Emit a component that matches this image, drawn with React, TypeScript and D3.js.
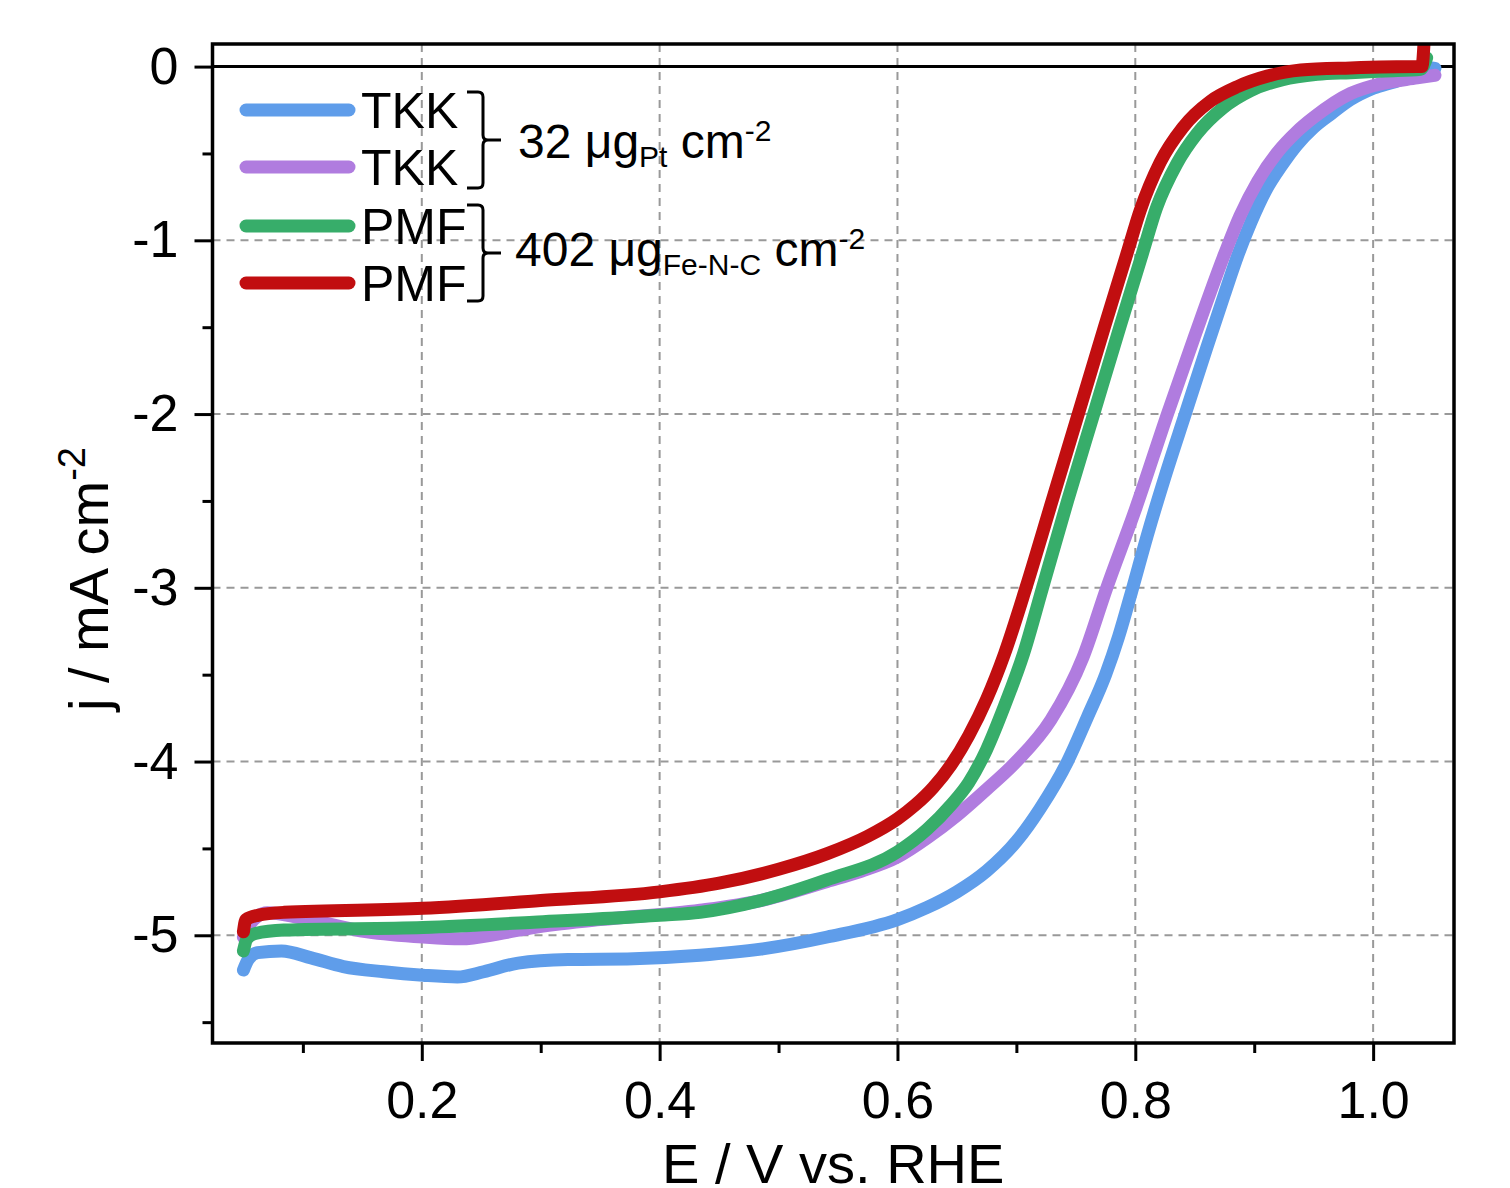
import React, { useEffect, useRef } from 'react';
import * as d3 from 'd3';

// E / V vs. RHE , j / mA cm-2
const tkkBlue: [number, number][] = [
  [0.050, -5.20], [0.054, -5.14], [0.062, -5.10], [0.082, -5.09], [0.107, -5.13], [0.134, -5.18],
  [0.168, -5.21], [0.201, -5.23], [0.230, -5.24], [0.252, -5.21], [0.281, -5.16], [0.323, -5.14],
  [0.378, -5.135], [0.434, -5.115], [0.485, -5.08], [0.541, -5.01], [0.600, -4.91], [0.625, -4.84],
  [0.650, -4.75], [0.675, -4.63], [0.700, -4.46], [0.720, -4.27], [0.743, -4.0], [0.760, -3.74],
  [0.775, -3.50], [0.786, -3.28], [0.797, -3.02], [0.810, -2.70], [0.825, -2.36], [0.842, -2.0],
  [0.860, -1.62], [0.875, -1.31], [0.886, -1.09], [0.897, -0.90], [0.910, -0.71], [0.923, -0.57],
  [0.936, -0.45], [0.950, -0.35], [0.965, -0.27], [0.981, -0.19], [1.0, -0.125], [1.023, -0.075],
  [1.037, -0.03], [1.045, -0.005], [1.052, -0.01]
];
const tkkPurple: [number, number][] = [
  [0.050, -5.01], [0.056, -4.93], [0.070, -4.87], [0.098, -4.90], [0.154, -4.98], [0.201, -5.01],
  [0.233, -5.02], [0.266, -4.99], [0.294, -4.955], [0.350, -4.91], [0.434, -4.856], [0.485, -4.80],
  [0.541, -4.69], [0.570, -4.63], [0.600, -4.55], [0.625, -4.44], [0.650, -4.31], [0.675, -4.16],
  [0.700, -4.0], [0.729, -3.76], [0.756, -3.40], [0.776, -3.0], [0.800, -2.55], [0.827, -2.0],
  [0.850, -1.55], [0.875, -1.08], [0.888, -0.86], [0.903, -0.66], [0.920, -0.49], [0.935, -0.38],
  [0.950, -0.293], [0.981, -0.155], [1.0, -0.11], [1.037, -0.065], [1.052, -0.05]
];
const pmfGreen: [number, number][] = [
  [0.050, -5.09], [0.053, -5.02], [0.060, -4.99], [0.084, -4.97], [0.201, -4.955], [0.294, -4.925],
  [0.400, -4.885], [0.434, -4.868], [0.485, -4.80], [0.541, -4.68], [0.600, -4.52], [0.625, -4.39],
  [0.645, -4.25], [0.660, -4.12], [0.675, -3.93], [0.690, -3.68], [0.706, -3.38], [0.722, -3.0],
  [0.743, -2.5], [0.765, -2.0], [0.787, -1.5], [0.806, -1.076], [0.818, -0.81], [0.835, -0.558],
  [0.852, -0.385], [0.874, -0.236], [0.897, -0.138], [0.924, -0.075], [0.953, -0.045], [0.981, -0.035],
  [1.01, -0.025], [1.04, -0.015], [1.045, 0.05]
];
const pmfRed: [number, number][] = [
  [0.050, -4.98], [0.052, -4.91], [0.062, -4.885], [0.084, -4.868], [0.201, -4.845], [0.300, -4.80],
  [0.400, -4.75], [0.450, -4.70], [0.500, -4.62], [0.541, -4.53], [0.575, -4.43], [0.600, -4.33],
  [0.615, -4.25], [0.630, -4.15], [0.645, -4.02], [0.660, -3.85], [0.675, -3.64], [0.690, -3.38],
  [0.708, -3.0], [0.730, -2.5], [0.752, -2.0], [0.774, -1.5], [0.793, -1.076], [0.804, -0.83],
  [0.821, -0.55], [0.840, -0.35], [0.863, -0.20], [0.886, -0.115], [0.911, -0.055], [0.939, -0.02],
  [0.981, -0.008], [1.037, 0.0], [1.041, 0.0], [1.043, 0.16]
];

const seriesData = [tkkBlue, tkkPurple, pmfGreen, pmfRed];
const legendLabels = ['TKK', 'TKK', 'PMF', 'PMF'];
const colors = ['#5f9dea', '#b07cdf', '#37ad6a', '#c10e10'];

const xTicks = [0.2, 0.4, 0.6, 0.8, 1.0];
const xMinorTicks = [0.1, 0.3, 0.5, 0.7, 0.9];
const yTicks = [0, -1, -2, -3, -4, -5];
const yMinorTicks = [-0.5, -1.5, -2.5, -3.5, -4.5, -5.5];

const FONT = '"Liberation Sans", Arial, sans-serif';

export default function App() {
  const ref = useRef<SVGSVGElement>(null);

  useEffect(() => {
    const svg = d3.select(ref.current);
    svg.selectAll('*').remove();

    const left = 212.5, right = 1454, top = 44, bottom = 1043;

    const x = d3.scaleLinear().domain([0.024, 1.068]).range([left, right]);
    const y = d3.scaleLinear().domain([-5.62, 0.13]).range([bottom, top]);

    svg.append('rect').attr('width', 1510).attr('height', 1188).attr('fill', 'white');

    // grid
    const grid = svg.append('g').attr('stroke', '#999').attr('stroke-width', 2).attr('stroke-dasharray', '8,6');
    grid.selectAll('line.gx').data(xTicks).enter().append('line')
      .attr('x1', d => x(d)).attr('x2', d => x(d)).attr('y1', top).attr('y2', bottom);
    grid.selectAll('line.gy').data(yTicks.filter(d => d !== 0)).enter().append('line')
      .attr('y1', d => y(d)).attr('y2', d => y(d)).attr('x1', left).attr('x2', right);

    // zero line
    svg.append('line')
      .attr('x1', left).attr('x2', right).attr('y1', y(0)).attr('y2', y(0))
      .attr('stroke', 'black').attr('stroke-width', 3);

    // curves
    svg.append('clipPath').attr('id', 'plot-clip')
      .append('rect').attr('x', left).attr('y', top).attr('width', right - left).attr('height', bottom - top);

    const line = d3.line<[number, number]>()
      .x(d => x(d[0]))
      .y(d => y(d[1]))
      .curve(d3.curveMonotoneX);

    svg.append('g').attr('clip-path', 'url(#plot-clip)')
      .selectAll('path').data(seriesData).enter().append('path')
      .attr('d', d => line(d))
      .attr('fill', 'none')
      .attr('stroke', (d, i) => colors[i])
      .attr('stroke-width', 13)
      .attr('stroke-linecap', 'round')
      .attr('stroke-linejoin', 'round');

    // axes
    const styleAxis = (g) => {
      g.select('.domain').remove();
      g.selectAll('line').attr('stroke', 'black').attr('stroke-width', 3);
      g.attr('font-family', FONT).attr('font-size', 52);
      g.selectAll('text').attr('fill', 'black');
    };

    svg.append('g').attr('transform', `translate(0,${bottom})`)
      .call(d3.axisBottom(x).tickValues(xTicks).tickSize(18).tickPadding(20).tickFormat(d3.format('.1f')))
      .call(styleAxis);
    svg.append('g').attr('transform', `translate(0,${bottom})`)
      .call(d3.axisBottom(x).tickValues(xMinorTicks).tickSize(10).tickFormat(() => ''))
      .call(styleAxis);
    svg.append('g').attr('transform', `translate(${left},0)`)
      .call(d3.axisLeft(y).tickValues(yTicks).tickSize(18).tickPadding(16).tickFormat(d => String(d)))
      .call(styleAxis);
    svg.append('g').attr('transform', `translate(${left},0)`)
      .call(d3.axisLeft(y).tickValues(yMinorTicks).tickSize(10).tickFormat(() => ''))
      .call(styleAxis);

    // frame
    svg.append('rect')
      .attr('x', left).attr('y', top).attr('width', right - left).attr('height', bottom - top)
      .attr('fill', 'none').attr('stroke', 'black').attr('stroke-width', 3.5);

    // axis titles
    svg.append('text')
      .attr('x', (left + right) / 2).attr('y', 1183)
      .attr('text-anchor', 'middle').attr('font-family', FONT).attr('font-size', 56)
      .text('E / V vs. RHE');

    const yl = svg.append('text')
      .attr('transform', 'translate(108,579) rotate(-90)')
      .attr('text-anchor', 'middle').attr('font-family', FONT).attr('font-size', 56);
    yl.append('tspan').text('j / mA cm');
    yl.append('tspan').attr('font-size', 38).attr('dy', -23).text('-2');

    // legend
    const legendY = [110, 167, 226, 283];
    const lg = svg.append('g');
    lg.selectAll('line').data(legendLabels).enter().append('line')
      .attr('x1', 246).attr('x2', 349)
      .attr('y1', (d, i) => legendY[i]).attr('y2', (d, i) => legendY[i])
      .attr('stroke', (d, i) => colors[i]).attr('stroke-width', 13).attr('stroke-linecap', 'round');
    lg.selectAll('text').data(legendLabels).enter().append('text')
      .attr('x', 361).attr('y', (d, i) => legendY[i] + 18)
      .attr('font-family', FONT).attr('font-size', 50)
      .text(d => d);

    // brackets
    const bracket = (y0, y1) => {
      const m = (y0 + y1) / 2;
      return `M467,${y0} L478,${y0} Q483,${y0} 483,${y0 + 5} L483,${m - 5} Q483,${m} 488,${m} L501,${m} L488,${m} Q483,${m} 483,${m + 5} L483,${y1 - 5} Q483,${y1} 478,${y1} L467,${y1}`;
    };
    svg.append('path').attr('d', bracket(92, 188)).attr('fill', 'none').attr('stroke', 'black').attr('stroke-width', 3);
    svg.append('path').attr('d', bracket(205, 301)).attr('fill', 'none').attr('stroke', 'black').attr('stroke-width', 3);

    const t1 = svg.append('text').attr('x', 518).attr('y', 158).attr('font-family', FONT).attr('font-size', 48);
    t1.append('tspan').text('32 μg');
    t1.append('tspan').attr('font-size', 30).attr('dy', 9).text('Pt');
    t1.append('tspan').attr('dy', -9).text(' cm');
    t1.append('tspan').attr('font-size', 30).attr('dy', -17).text('-2');

    const t2 = svg.append('text').attr('x', 515).attr('y', 266).attr('font-family', FONT).attr('font-size', 48);
    t2.append('tspan').text('402 μg');
    t2.append('tspan').attr('font-size', 30).attr('dy', 9).text('Fe-N-C');
    t2.append('tspan').attr('dy', -9).text(' cm');
    t2.append('tspan').attr('font-size', 30).attr('dy', -17).text('-2');
  }, []);

  return (
    <svg ref={ref} width={1510} height={1188}
      style={{ position: 'absolute', left: 0, top: 0, display: 'block' }} />
  );
}
